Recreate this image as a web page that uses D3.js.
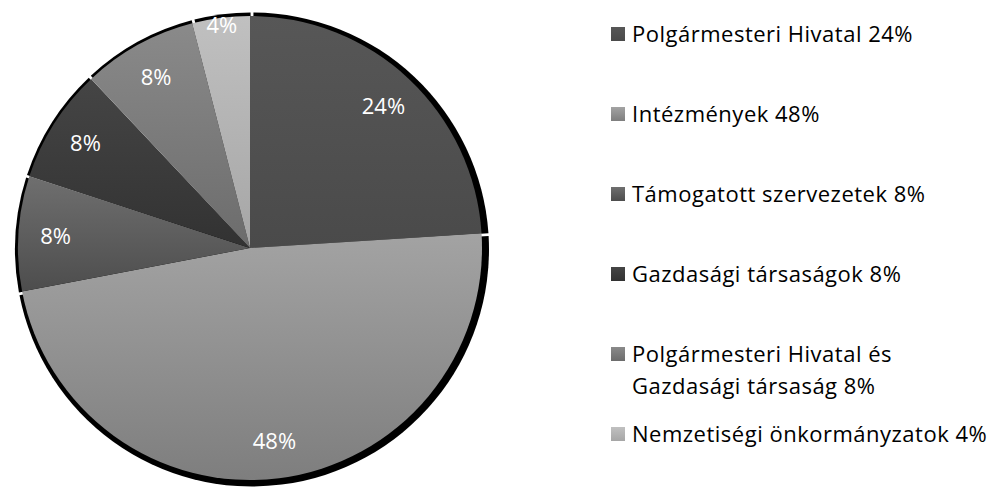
<!DOCTYPE html>
<html>
<head>
<meta charset="utf-8">
<script src="https://cdn.jsdelivr.net/npm/d3@7"></script>
<style>
body { margin: 0; background: #fff; }
text { font-family: "Open Sans", "Noto Sans", sans-serif; }
</style>
</head>
<body>
<div id="chart"></div>
<script>
const categories = ['Polgármesteri Hivatal', 'Intézmények', 'Támogatott szervezetek', 'Gazdasági társaságok', 'Polgármesteri Hivatal és Gazdasági társaság', 'Nemzetiségi önkormányzatok']
const values = [24, 48, 8, 8, 8, 4]
const legendLines = [
	['Polgármesteri Hivatal 24%'],
	['Intézmények 48%'],
	['Támogatott szervezetek 8%'],
	['Gazdasági társaságok 8%'],
	['Polgármesteri Hivatal és', 'Gazdasági társaság 8%'],
	['Nemzetiségi önkormányzatok 4%']
]

// gradient top / bottom per slice
const fillTop = ['#575757', '#a3a3a3', '#6f6f6f', '#454545', '#8a8a8a', '#c0c0c0']
const fillBottom = ['#4a4a4a', '#7e7e7e', '#4d4d4d', '#323232', '#6c6c6c', '#a6a6a6']

const width = 993
const height = 488

let svg = d3.select('#chart').append('svg')
.attr('width', width)
.attr('height', height)

let defs = svg.append('defs')
categories.forEach((c, i) => {
	let g = defs.append('linearGradient')
	.attr('id', 'grad' + i)
	.attr('x1', 0).attr('y1', 0).attr('x2', 0).attr('y2', 1)
	g.append('stop').attr('offset', '0%').attr('stop-color', fillTop[i])
	g.append('stop').attr('offset', '100%').attr('stop-color', fillBottom[i])
})

const cx = 250, cy = 248, r = 232

const pie = d3.pie().sort(null).value(d => d)
const arcs = pie(values)

const arc = d3.arc().innerRadius(0).outerRadius(r)
const shadowArc = d3.arc().innerRadius(0).outerRadius(r + 5).padAngle(0.012)

let pieG = svg.append('g').attr('transform', `translate(${cx},${cy})`)

pieG.append('g')
.attr('transform', 'translate(2,1.5)')
.selectAll('path')
.data(arcs)
.join('path')
.attr('d', shadowArc)
.attr('fill', '#000')

pieG.append('g')
.selectAll('path')
.data(arcs)
.join('path')
.attr('d', arc)
.attr('fill', (d, i) => `url(#grad${i})`)

// small slices sit further out
const labelArc = d => {
	let lr = d.data < 5 ? r * 0.97 : r * 0.84
	return d3.arc().innerRadius(lr).outerRadius(lr).centroid(d)
}

pieG.append('g')
.selectAll('text')
.data(arcs)
.join('text')
.attr('transform', d => `translate(${labelArc(d)})`)
.attr('text-anchor', 'middle')
.attr('dy', '0.36em')
.attr('fill', '#fff')
.style('font-size', '22px')
.text(d => d.data + '%')

// legend
let legend = svg.append('g').attr('transform', 'translate(611,34)')

let items = legend.selectAll('g')
.data(categories)
.join('g')
.attr('transform', (d, i) => `translate(0,${i * 80})`)

items.append('rect')
.attr('x', 0).attr('y', -7)
.attr('width', 14).attr('height', 14)
.attr('fill', (d, i) => `url(#grad${i})`)

items.append('text')
.attr('x', 21)
.attr('fill', '#000')
.style('font-size', '22px')
.style('letter-spacing', '0.5px')
.selectAll('tspan')
.data((d, i) => legendLines[i])
.join('tspan')
.attr('x', 21)
.attr('y', (d, j) => j * 32)
.attr('dy', '0.35em')
.text(d => d)
</script>
</body>
</html>
